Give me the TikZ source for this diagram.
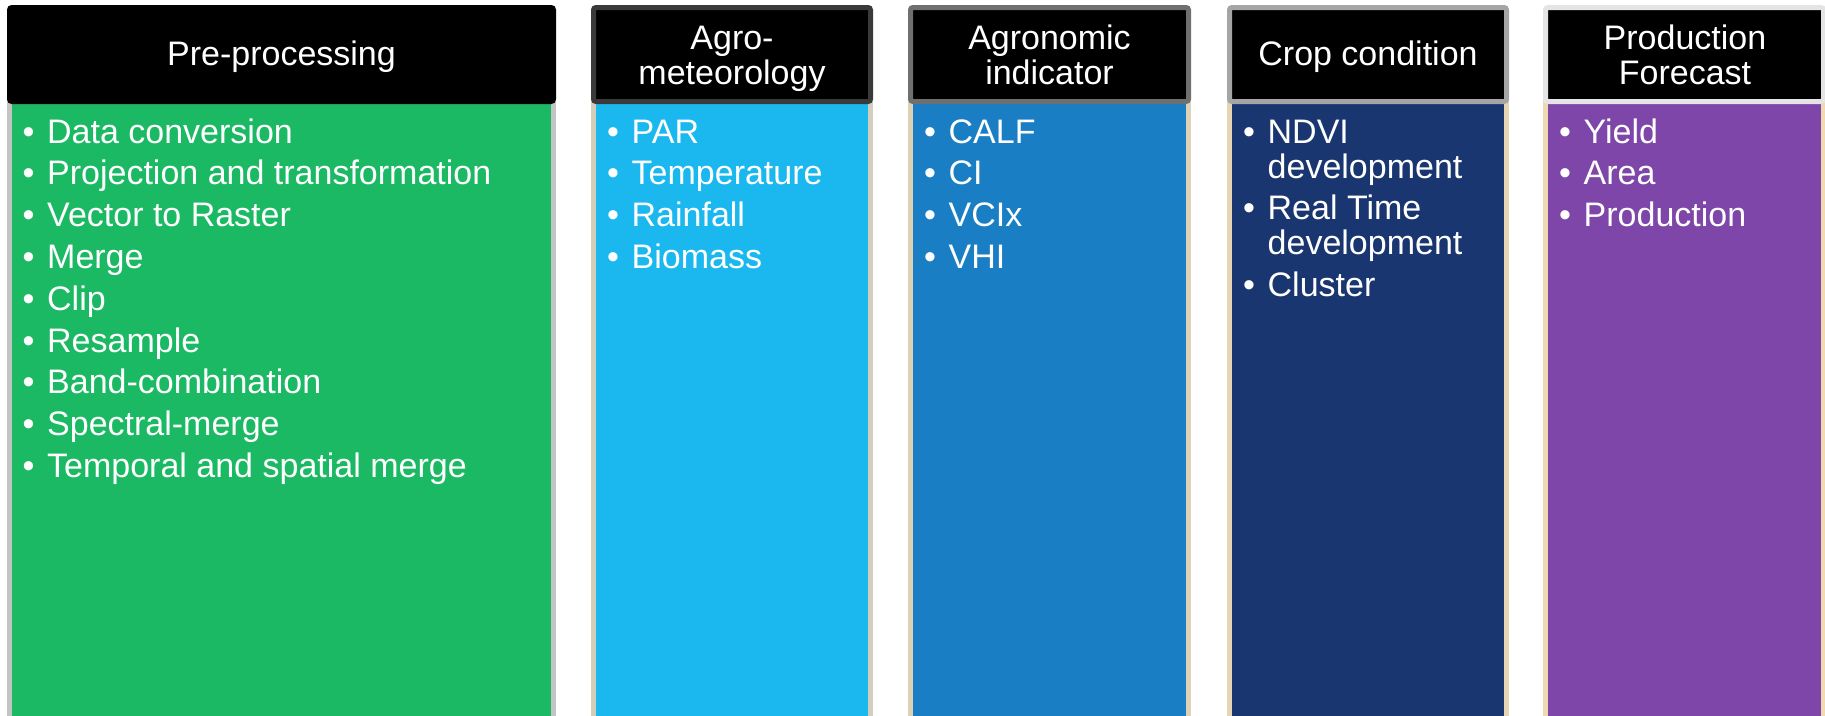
\documentclass[tikz,border=0pt]{standalone}
\usepackage{fontspec}
\setmainfont{Liberation Sans}

% column fills
\definecolor{fillA}{RGB}{28,185,100}
\definecolor{fillB}{RGB}{26,184,238}
\definecolor{fillC}{RGB}{26,126,197}
\definecolor{fillD}{RGB}{26,54,112}
\definecolor{fillE}{RGB}{125,70,168}
% header outlines
\definecolor{hlineA}{RGB}{0,0,0}
\definecolor{hlineB}{RGB}{58,58,58}
\definecolor{hlineC}{RGB}{111,111,111}
\definecolor{hlineD}{RGB}{165,165,165}
\definecolor{hlineE}{RGB}{228,228,228}
% body outlines
\definecolor{blineA}{RGB}{196,196,196}
\definecolor{blineB}{RGB}{213,205,188}
\definecolor{blineC}{RGB}{221,209,182}
\definecolor{blineD}{RGB}{230,213,178}
\definecolor{blineE}{RGB}{239,217,177}

% list font: natural word spacing, ragged right, small gap between items
\newcommand\bodyfont{\fontsize{34}{35}\selectfont\spaceskip=0pt\xspaceskip=0pt
  \rightskip=0pt plus 1fil\setlength\parskip{6.8pt}}
% one bulleted item with hanging indent
\newcommand\listitem[1]{\hangindent=24.5pt\hangafter=1\noindent
  \makebox[24.5pt][l]{\textbullet}#1\par}

\tikzset{
  hdrbox/.style={draw=#1, line width=5pt, fill=black, rounded corners=2.5pt},
  bodyrect/.style={line width=5pt},
  htext/.style={text=white, font=\fontsize{34}{35}\selectfont, align=center,
                anchor=base, inner sep=0pt},
  btext/.style={text=white, anchor=base west, inner sep=0pt,
                font=\fontsize{34}{35}\selectfont, text width=#1},
}

\begin{document}
\begin{tikzpicture}[x=1pt, y=-1pt]
  \clip (0,0) rectangle (1825,715);

  % column bodies
  \draw[bodyrect, draw=blineA, fill=fillA] (9.5,101.5) rectangle (553,740);
  \draw[bodyrect, draw=blineB, fill=fillB] (593.5,101.5) rectangle (870.5,740);
  \draw[bodyrect, draw=blineC, fill=fillC] (910.5,101.5) rectangle (1188.5,740);
  \draw[bodyrect, draw=blineD, fill=fillD] (1229.5,101.5) rectangle (1506.5,740);
  \draw[bodyrect, draw=blineE, fill=fillE] (1545.5,101.5) rectangle (1823.5,740);

  % column headers
  \draw[hdrbox=hlineA] (9.5,7.5) rectangle (553.5,101.5);
  \draw[hdrbox=hlineB] (593.5,7.5) rectangle (870.5,101.5);
  \draw[hdrbox=hlineC] (910.5,7.5) rectangle (1188.5,101.5);
  \draw[hdrbox=hlineD] (1229.5,7.5) rectangle (1506.5,101.5);
  \draw[hdrbox=hlineE] (1545.5,7.5) rectangle (1823.5,101.5);

  % header titles (two-line titles sit on the baseline of their last line)
  \node[htext] (tPre)  at (281.5,65)  {Pre-processing};
  \node[htext] (tAgro) at (732,84)    {Agro-\\meteorology};
  \node[htext] (tInd)  at (1049.5,84) {Agronomic\\indicator};
  \node[htext] (tCrop) at (1368,65)   {Crop condition};
  \node[htext] (tProd) at (1685,84)   {Production\\Forecast};

  % item lists
  \node[btext=520pt] (lPre) at (22.5,143) {\bodyfont
    \listitem{Data conversion}
    \listitem{Projection and transformation}
    \listitem{Vector to Raster}
    \listitem{Merge}
    \listitem{Clip}
    \listitem{Resample}
    \listitem{Band-combination}
    \listitem{Spectral-merge}
    \listitem{Temporal and spatial merge}};
  \node[btext=260pt] (lAgro) at (607,143) {\bodyfont
    \listitem{PAR}
    \listitem{Temperature}
    \listitem{Rainfall}
    \listitem{Biomass}};
  \node[btext=260pt] (lInd) at (924,143) {\bodyfont
    \listitem{CALF}
    \listitem{CI}
    \listitem{VCIx}
    \listitem{VHI}};
  \node[btext=270pt] (lCrop) at (1243,143) {\bodyfont
    \listitem{NDVI\newline development}
    \listitem{Real Time\newline development}
    \listitem{Cluster}};
  \node[btext=260pt] (lProd) at (1559,143) {\bodyfont
    \listitem{Yield}
    \listitem{Area}
    \listitem{Production}};
\end{tikzpicture}
\end{document}
